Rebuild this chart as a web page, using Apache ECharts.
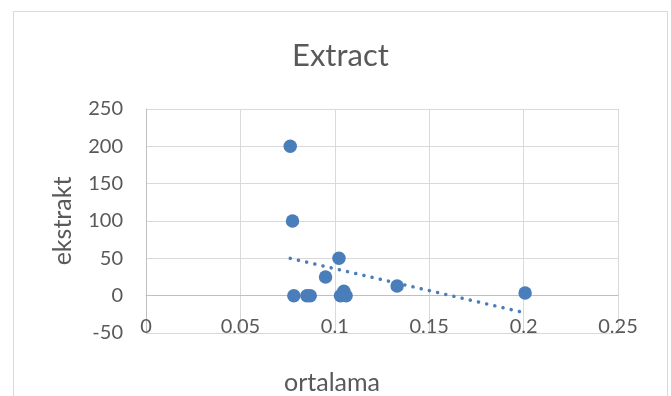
<!DOCTYPE html>
<html>
<head>
<meta charset="utf-8">
<script src="https://cdn.jsdelivr.net/npm/echarts@6/dist/echarts.min.js"></script>
<style>html,body{margin:0;padding:0;background:#fff}#c{width:671px;height:396px}</style>
</head>
<body>
<div id="c"></div>
<script>
// Data
const xValues = [0.0764, 0.0776, 0.0783, 0.0852, 0.0870, 0.0951, 0.1022, 0.1030, 0.1048, 0.1060, 0.1330, 0.2008];
const yValues = [200, 100, 0, 0, 0, 25, 50, 0, 6, 0, 13, 3.6];
// Linear trendline endpoints
const trendX = [0.0764, 0.2008];
const trendY = [50, -23];
const xTicks = { min: 0, max: 0.25, interval: 0.05 };
const yTicks = { min: -50, max: 250, interval: 50 };
const titleText = 'Extract';
const xName = 'ortalama';
const yName = 'ekstrakt';

const blue = '#4A7EBB';
const txt = '#595959';
const font = 'Lato, "Open Sans", sans-serif';

const gridTop = 109, gridBottom = 63;
const plotH = 396 - gridTop - gridBottom;
// distance (px) from the bottom of the plot up to the value 0 on the y axis
const zeroOffset = plotH * (0 - yTicks.min) / (yTicks.max - yTicks.min);

const chart = echarts.init(document.getElementById('c'), null, { renderer: 'canvas' });
chart.setOption({
  animation: false,
  backgroundColor: '#ffffff',
  title: {
    text: titleText, left: 292, top: 40, padding: 0,
    textStyle: { fontFamily: font, fontSize: 31, fontWeight: 'normal', color: txt }
  },
  grid: { left: 146, right: 53, top: gridTop, bottom: gridBottom },
  xAxis: {
    type: 'value', min: xTicks.min, max: xTicks.max, interval: xTicks.interval,
    position: 'bottom', offset: -zeroOffset,
    axisLine: { show: true, onZero: false, lineStyle: { color: '#bfbfbf', width: 1 } },
    axisTick: { show: false },
    axisLabel: { fontFamily: font, fontSize: 20, color: txt, margin: 21 },
    splitLine: { show: true, lineStyle: { color: '#d9d9d9', width: 1 } }
  },
  yAxis: {
    type: 'value', min: yTicks.min, max: yTicks.max, interval: yTicks.interval,
    axisLine: { show: true, onZero: false, lineStyle: { color: '#bfbfbf', width: 1 } },
    axisTick: { show: false },
    axisLabel: { fontFamily: font, fontSize: 20, color: txt, margin: 23 },
    splitLine: { show: true, lineStyle: { color: '#d9d9d9', width: 1 } }
  },
  graphic: [
    { type: 'rect', shape: { x: 13.5, y: 11.5, width: 654, height: 420 }, style: { fill: 'none', stroke: '#d9d9d9', lineWidth: 1 }, silent: true, z: -1 },
    { type: 'text', x: 332, y: 383, style: { text: xName, font: '25px ' + font, fill: txt, textAlign: 'center', textVerticalAlign: 'middle' } },
    { type: 'text', x: 63, y: 221, rotation: Math.PI / 2, style: { text: yName, font: '25px ' + font, fill: txt, textAlign: 'center', textVerticalAlign: 'middle' } }
  ],
  series: [
    {
      type: 'line',
      data: trendX.map((x, i) => [x, trendY[i]]),
      showSymbol: false, symbol: 'none',
      lineStyle: { color: blue, width: 3.5, type: [0.1, 8.3], cap: 'round' },
      z: 2
    },
    {
      type: 'scatter',
      data: xValues.map((x, i) => [x, yValues[i]]),
      symbol: 'circle', symbolSize: 13.5,
      itemStyle: { color: blue, opacity: 1 },
      z: 3
    }
  ]
});
</script>
</body>
</html>
